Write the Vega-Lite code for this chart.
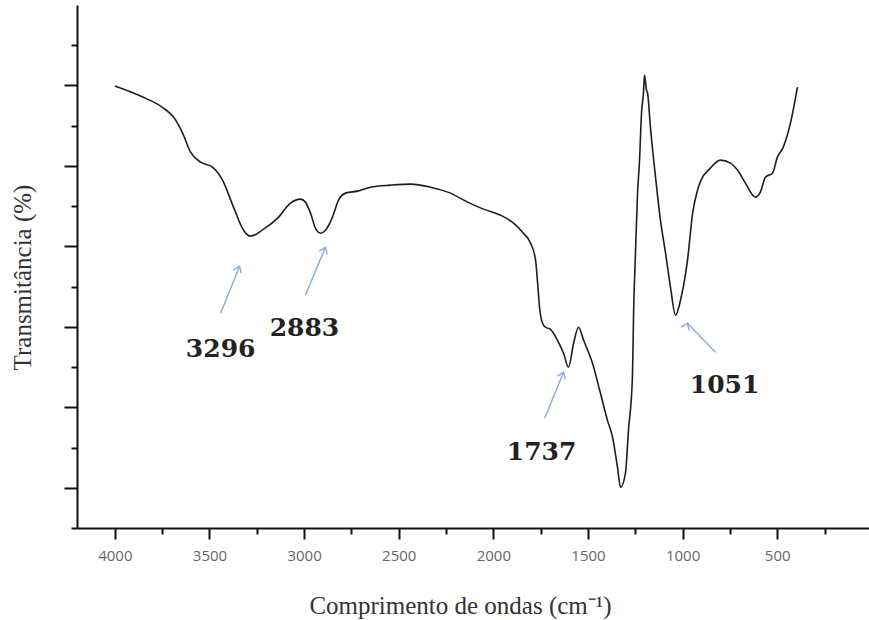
{
  "$schema": "https://vega.github.io/schema/vega-lite/v6.json",
  "width": 792,
  "height": 523,
  "autosize": {"type": "none"},
  "padding": {"left": 77, "top": 5, "right": 0, "bottom": 92},
  "background": "white",
  "config": {"view": {"stroke": null}},
  "datasets": {
    "spectrum": [
      {"wn": 4000, "t": 59.93}, {"wn": 3864, "t": 58.68}, {"wn": 3743, "t": 57.19}, {"wn": 3690, "t": 56.07},
      {"wn": 3642, "t": 54.08}, {"wn": 3600, "t": 51.72}, {"wn": 3547, "t": 50.47}, {"wn": 3484, "t": 49.85},
      {"wn": 3431, "t": 48.23}, {"wn": 3373, "t": 44.88}, {"wn": 3320, "t": 42.01}, {"wn": 3283, "t": 41.27},
      {"wn": 3214, "t": 42.14}, {"wn": 3140, "t": 43.51}, {"wn": 3072, "t": 45.37}, {"wn": 3019, "t": 45.87},
      {"wn": 2993, "t": 45.5}, {"wn": 2966, "t": 44.13}, {"wn": 2940, "t": 42.26}, {"wn": 2913, "t": 41.64},
      {"wn": 2887, "t": 42.01}, {"wn": 2850, "t": 43.63}, {"wn": 2818, "t": 45.75}, {"wn": 2781, "t": 46.62},
      {"wn": 2718, "t": 46.87}, {"wn": 2649, "t": 47.36}, {"wn": 2543, "t": 47.61}, {"wn": 2438, "t": 47.74},
      {"wn": 2332, "t": 47.36}, {"wn": 2227, "t": 46.62}, {"wn": 2136, "t": 45.5}, {"wn": 2052, "t": 44.63},
      {"wn": 1962, "t": 43.88}, {"wn": 1893, "t": 42.89}, {"wn": 1841, "t": 41.64}, {"wn": 1803, "t": 40.4},
      {"wn": 1777, "t": 38.28}, {"wn": 1766, "t": 35.42}, {"wn": 1756, "t": 32.44}, {"wn": 1740, "t": 30.45},
      {"wn": 1724, "t": 29.95}, {"wn": 1698, "t": 29.7}, {"wn": 1661, "t": 28.33}, {"wn": 1629, "t": 26.72},
      {"wn": 1603, "t": 24.98}, {"wn": 1576, "t": 27.96}, {"wn": 1550, "t": 29.95}, {"wn": 1523, "t": 28.33},
      {"wn": 1476, "t": 25.47}, {"wn": 1434, "t": 21.74}, {"wn": 1397, "t": 18.38}, {"wn": 1370, "t": 16.27},
      {"wn": 1344, "t": 12.54}, {"wn": 1328, "t": 10.05}, {"wn": 1302, "t": 11.79}, {"wn": 1286, "t": 17.14},
      {"wn": 1265, "t": 23.73}, {"wn": 1259, "t": 31.69}, {"wn": 1249, "t": 39.15}, {"wn": 1238, "t": 46.62},
      {"wn": 1228, "t": 50.47}, {"wn": 1217, "t": 56.57}, {"wn": 1207, "t": 59.05}, {"wn": 1201, "t": 61.29},
      {"wn": 1191, "t": 59.43}, {"wn": 1185, "t": 59.05}, {"wn": 1170, "t": 54.83}, {"wn": 1143, "t": 48.61},
      {"wn": 1117, "t": 43.26}, {"wn": 1090, "t": 39.15}, {"wn": 1064, "t": 34.93}, {"wn": 1037, "t": 31.44},
      {"wn": 1011, "t": 33.31}, {"wn": 974, "t": 38.28}, {"wn": 947, "t": 44.13}, {"wn": 921, "t": 46.99},
      {"wn": 905, "t": 48.11}, {"wn": 853, "t": 49.73}, {"wn": 800, "t": 50.72}, {"wn": 747, "t": 50.35},
      {"wn": 710, "t": 49.48}, {"wn": 668, "t": 47.86}, {"wn": 615, "t": 46.12}, {"wn": 589, "t": 46.74},
      {"wn": 562, "t": 48.61}, {"wn": 525, "t": 49.1}, {"wn": 499, "t": 51.09}, {"wn": 468, "t": 52.34},
      {"wn": 430, "t": 55.32}, {"wn": 393, "t": 59.8}
    ],
    "peaks": [
      {"peak": "3296", "lx": 3441, "ly": 27.21, "tailx": 3441, "taily": 31.69, "tipx": 3341, "tipy": 37.54},
      {"peak": "2883", "lx": 2998, "ly": 29.83, "tailx": 2993, "taily": 33.93, "tipx": 2887, "tipy": 39.9},
      {"peak": "1737", "lx": 1745, "ly": 14.4, "tailx": 1729, "taily": 18.63, "tipx": 1629, "tipy": 24.35},
      {"peak": "1051", "lx": 778, "ly": 22.74, "tailx": 826, "taily": 26.84, "tipx": 974, "tipy": 30.45}
    ]
  },
  "layer": [
    {
      "data": {"name": "spectrum"},
      "mark": {"type": "line", "color": "#1e1e1e", "strokeWidth": 1.6, "interpolate": "monotone"},
      "encoding": {
        "x": {
          "field": "wn", "type": "quantitative",
          "scale": {"domain": [4200, 15], "nice": false, "zero": false},
          "axis": {
            "values": [4000, 3750, 3500, 3250, 3000, 2750, 2500, 2250, 2000, 1750, 1500, 1250, 1000, 750, 500, 250],
            "format": "d",
            "labelExpr": "datum.value % 500 === 0 ? datum.label : ''",
            "grid": false,
            "domainColor": "#111", "domainWidth": 2,
            "tickColor": "#111", "tickWidth": 2,
            "tickSize": {"condition": {"test": "datum.value % 500 === 0", "value": 11}, "value": 6},
            "labelFont": "Open Sans", "labelFontSize": 15, "labelColor": "#666", "labelPadding": 9,
            "title": "Comprimento de ondas (cm⁻¹)",
            "titleFont": "Liberation Serif", "titleFontSize": 25, "titleFontWeight": "normal", "titleColor": "#333",
            "titleX": 383, "titleY": 77, "titleBaseline": "middle", "titleAlign": "center"
          }
        },
        "y": {
          "field": "t", "type": "quantitative",
          "scale": {"domain": [5, 70], "nice": false, "zero": false},
          "axis": {
            "values": [5, 10, 15, 20, 25, 30, 35, 40, 45, 50, 55, 60, 65],
            "labels": false,
            "grid": false,
            "domainColor": "#111", "domainWidth": 2,
            "tickColor": "#111", "tickWidth": 2,
            "tickSize": {"condition": {"test": "datum.value % 10 === 0", "value": 13}, "value": 6},
            "title": "Transmitância (%)",
            "titleFont": "Liberation Serif", "titleFontSize": 25, "titleFontWeight": "normal", "titleColor": "#333",
            "titleX": -55, "titleY": 272, "titleBaseline": "middle", "titleAlign": "center", "titleAngle": -90
          }
        }
      }
    },
    {
      "mark": {"type": "rule", "color": "#111", "strokeWidth": 2},
      "encoding": {"y": {"datum": 70}}
    },
    {
      "data": {"name": "peaks"},
      "mark": {"type": "rule", "color": "#8eaedb", "strokeWidth": 1.5},
      "encoding": {
        "x": {"field": "tailx", "type": "quantitative"},
        "y": {"field": "taily", "type": "quantitative"},
        "x2": {"field": "tipx"},
        "y2": {"field": "tipy"}
      }
    },
    {
      "data": {"name": "peaks"},
      "mark": {"type": "point", "shape": "M -0.7 1 L 0 0 L 0.7 1", "filled": false, "color": "#8eaedb", "strokeWidth": 1.5, "size": 144, "opacity": 1},
      "encoding": {
        "x": {"field": "tipx", "type": "quantitative"},
        "y": {"field": "tipy", "type": "quantitative"},
        "angle": {"field": "peak", "type": "nominal", "scale": {"domain": ["3296", "2883", "1737", "1051"], "range": [22, 23, 22, 316]}, "legend": null}
      }
    },
    {
      "data": {"name": "peaks"},
      "mark": {"type": "text", "font": "DejaVu Serif", "fontWeight": "bold", "fontSize": 25, "color": "#222", "align": "center", "baseline": "middle"},
      "encoding": {
        "x": {"field": "lx", "type": "quantitative"},
        "y": {"field": "ly", "type": "quantitative"},
        "text": {"field": "peak"}
      }
    }
  ]
}
